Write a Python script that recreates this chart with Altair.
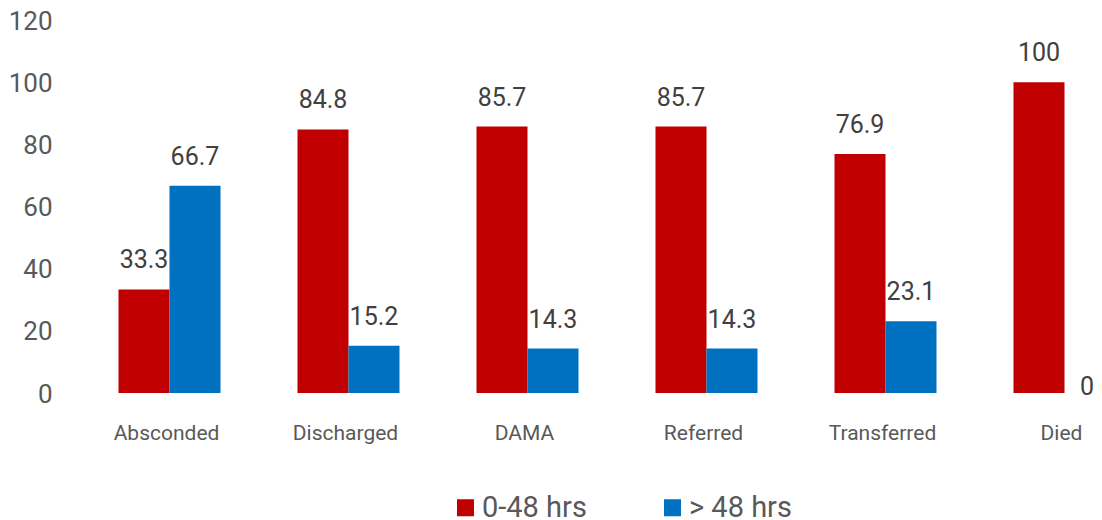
import altair as alt
import pandas as pd

categories = ["Absconded", "Discharged", "DAMA", "Referred", "Transferred", "Died"]
series_names = ["0-48 hrs", "> 48 hrs"]
short_stay = [33.3, 84.8, 85.7, 85.7, 76.9, 100]
long_stay = [66.7, 15.2, 14.3, 14.3, 23.1, 0]
y_ticks = [0, 20, 40, 60, 80, 100, 120]

rows = []
for c, a, b in zip(categories, short_stay, long_stay):
    rows.append({"category": c, "series": series_names[0], "value": a})
    rows.append({"category": c, "series": series_names[1], "value": b})
df = pd.DataFrame(rows)

FONT = "Roboto"
RED = "#C00000"
BLUE = "#0070C0"

x_enc = alt.X(
    "category:N",
    sort=categories,
    scale=alt.Scale(range=[0, 1074], paddingInner=0, paddingOuter=0),
    axis=alt.Axis(
        title=None, labelAngle=0, domain=False, ticks=False, grid=False,
        labelFontSize=21, labelColor="#595959", labelFont=FONT,
        labelPadding=29, labelOffset=-3,
    ),
)
xo_enc = alt.XOffset(
    "series:N", sort=series_names,
    scale=alt.Scale(paddingInner=0, paddingOuter=0.755),
)

bars = alt.Chart(df).mark_bar().encode(
    x=x_enc,
    xOffset=xo_enc,
    y=alt.Y(
        "value:Q",
        scale=alt.Scale(domain=[0, 120], nice=False),
        axis=alt.Axis(
            title=None, values=y_ticks, domain=False, ticks=False, grid=False,
            labelFontSize=26, labelColor="#595959", labelFont=FONT,
            labelPadding=28, labelOffset=1,
        ),
    ),
    color=alt.Color(
        "series:N",
        sort=series_names,
        scale=alt.Scale(domain=series_names, range=[RED, BLUE]),
        legend=alt.Legend(
            title=None, orient="none", direction="horizontal",
            legendX=371, legendY=473, padding=0,
            symbolType="square", symbolSize=289, symbolStrokeWidth=0,
            labelFontSize=29, labelColor="#595959", labelFont=FONT,
            labelOffset=2, columnPadding=71,
        ),
    ),
)

labels = alt.Chart(df).transform_filter(
    "datum.value > 0"
).mark_text(
    baseline="alphabetic", align="center", dy=-21,
    fontSize=25, font=FONT, color="#404040",
).encode(
    x=alt.X("category:N", sort=categories),
    xOffset=alt.XOffset("series:N", sort=series_names),
    y=alt.Y("value:Q"),
    text=alt.Text("value:Q"),
)

zero_labels = alt.Chart(df).transform_filter(
    "datum.value == 0"
).mark_text(
    baseline="alphabetic", align="right", dx=4, dy=2,
    fontSize=25, font=FONT, color="#404040",
).encode(
    x=alt.X("category:N", sort=categories),
    xOffset=alt.XOffset("series:N", sort=series_names),
    y=alt.Y("value:Q"),
    text=alt.Text("value:Q"),
)

chart = alt.layer(bars, labels, zero_labels).properties(
    width=1014,
    height=373,
    background="white",
    autosize=alt.AutoSizeParams(type="none"),
    padding={"left": 72, "top": 12, "right": 0, "bottom": 127},
).configure_view(strokeWidth=0, stroke=None)

chart.save("out.html", embed_options={"renderer": "svg", "actions": False})
